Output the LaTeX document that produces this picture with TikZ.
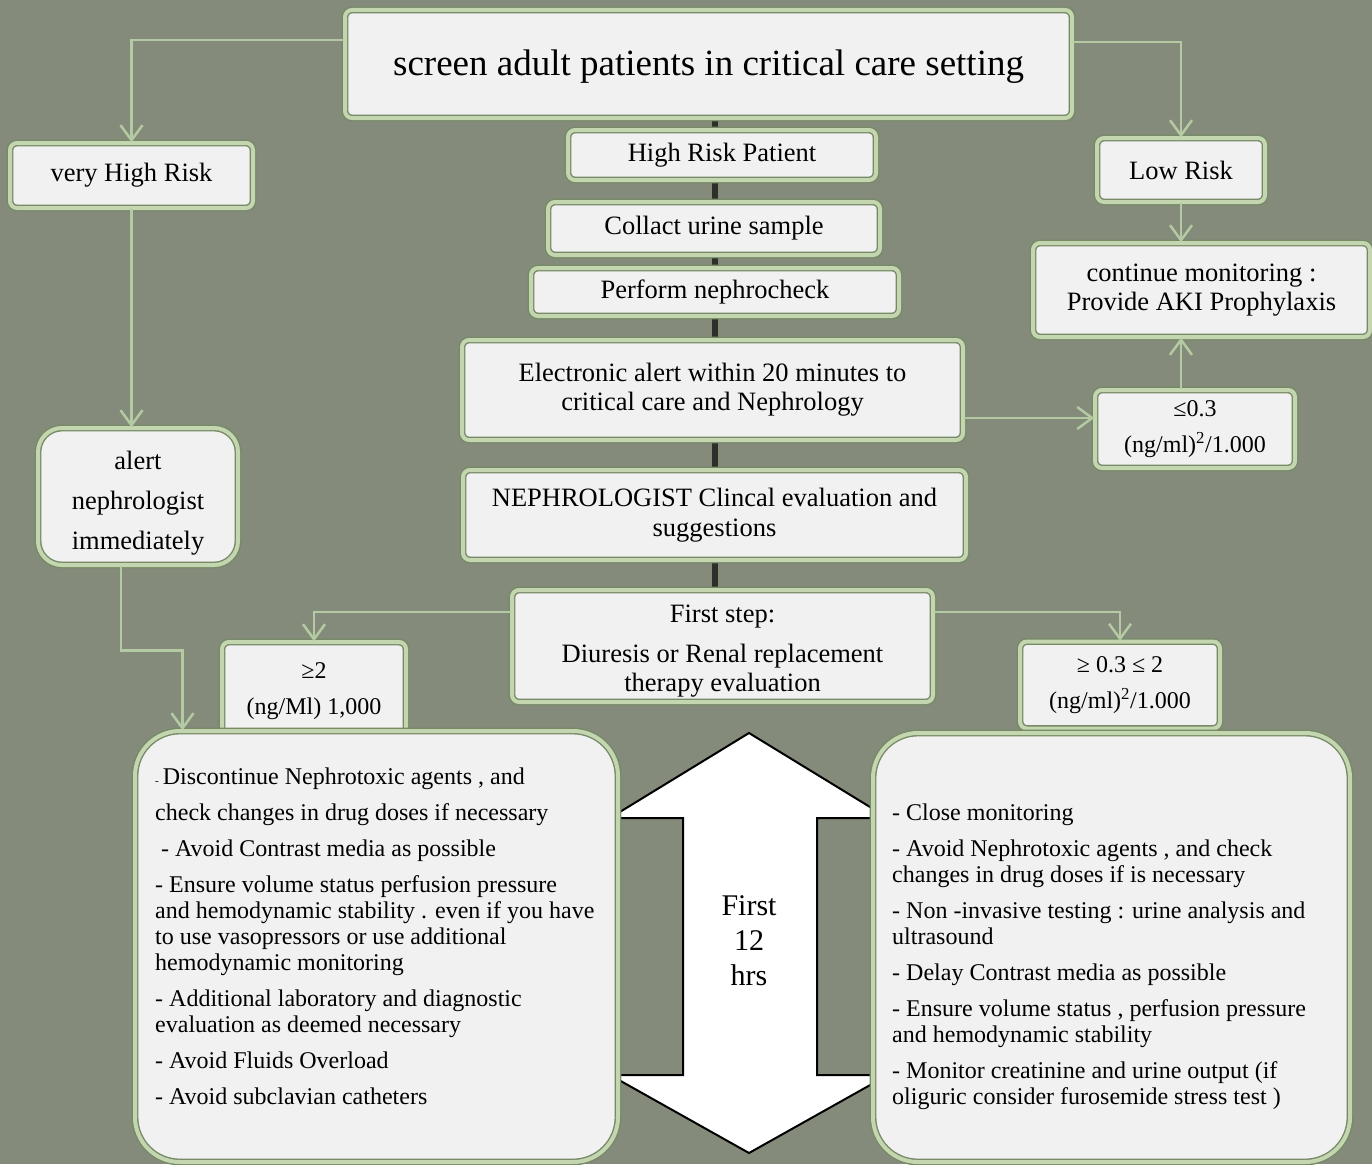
\documentclass[tikz,border=0pt]{standalone}
\usepackage{fontspec}
\setmainfont{Liberation Serif}
\usetikzlibrary{positioning}
\usetikzlibrary{arrows.meta}
\usetikzlibrary{backgrounds}
\definecolor{bggreen}{RGB}{132,139,122}
\definecolor{boxfill}{RGB}{241,241,241}
\definecolor{edgegreen}{RGB}{118,138,102}
\definecolor{bandgreen}{RGB}{196,214,176}
\definecolor{linkgreen}{RGB}{180,202,162}
\definecolor{spinegray}{RGB}{45,48,42}
\tikzset{block/.style={rectangle,draw=edgegreen,double=bandgreen,double distance=4pt,line width=1.4pt,fill=boxfill,rounded corners=7pt,align=center,inner sep=0pt,font=\fontsize{26.5}{29}\selectfont}}
\tikzset{roundblock/.style={block,rounded corners=24pt}}
\tikzset{bigblock/.style={block,rounded corners=45pt}}
\tikzset{numtext/.style={font=\fontsize{24}{36}\selectfont}}
\tikzset{listtext/.style={align=left,inner sep=0pt,font=\fontsize{24}{26}\selectfont}}
\tikzset{link/.style={linkgreen,line width=2.5pt,-{Straight Barb[length=15pt,width=22pt]}}}
\tikzset{spine/.style={spinegray,line width=6pt}}
\tikzset{bigarrow/.style={draw=black,fill=white,line width=2pt,line join=miter}}

\begin{document}
\begin{tikzpicture}[x=1pt,y=-1pt]
  \useasboundingbox (0,0) rectangle (1372,1164);
  \begin{scope}[on background layer]
    \fill[bggreen] (0,0) rectangle (1372,1164);
  \end{scope}

  % Screening
  \node[block,minimum width=727,minimum height=108,font=\fontsize{37}{42}\selectfont] (screen) at (708.5,64) {\rule{0pt}{31pt}screen adult patients in critical care setting};

  % Left branch
  \node[block,minimum width=243,minimum height=65] (veryhigh) at (131.5,175.5) {very High Risk};
  \node[roundblock,minimum width=200,minimum height=137,font=\fontsize{26.5}{40}\selectfont] (alertneph) at (138,496.5) {\rule{0pt}{32pt}alert\\nephrologist\\immediately};

  % Middle column
  \node[block,minimum width=308,minimum height=50] (highrisk) at (722,155) {High Risk Patient};
  \node[block,minimum width=332,minimum height=53] (urine) at (714,228.5) {Collact urine sample};
  \node[block,minimum width=368,minimum height=48] (nephrocheck) at (715,292) {Perform nephrocheck};
  \node[block,minimum width=501,minimum height=100] (ealert) at (712.5,390) {Electronic alert within 20 minutes to\\critical care and Nephrology};
  \node[block,minimum width=503,minimum height=90,font=\fontsize{26.5}{30}\selectfont] (clinical) at (714.5,515) {NEPHROLOGIST Clincal evaluation and\\suggestions};
  \node[block,minimum width=421,minimum height=112] (firststep) at (722.5,646) {\rule{0pt}{27pt}First step:\\[11pt]Diuresis or Renal replacement\\therapy evaluation};

  % Right branch
  \node[block,minimum width=168,minimum height=64] (lowrisk) at (1181,170) {Low Risk};
  \node[block,minimum width=337,minimum height=94] (monitor) at (1201.5,290) {continue monitoring :\\Provide AKI Prophylaxis};
  \node[block,numtext,minimum width=200,minimum height=78] (low03) at (1195,429) {≤0.3\\(ng/ml)\textsuperscript{2}/1.000};

  % Thresholds
  \node[block,numtext,minimum width=184,minimum height=98] (high2) at (314,691) {≥2\\(ng/Ml) 1,000};
  \node[block,numtext,minimum width=200,minimum height=87] (mid03) at (1120,685) {≥ 0.3 ≤ 2\\(ng/ml)\textsuperscript{2}/1.000};

  % Time arrow
  \draw[bigarrow] (749,733) -- (888,818) -- (817,818) -- (817,1075) -- (888,1075) -- (749,1153) -- (610,1075) -- (683,1075) -- (683,818) -- (610,818) -- cycle;
  \node[align=center,font=\fontsize{30}{35}\selectfont] (hrs) at (749,941) {First\\12\\hrs};

  % Actions
  \node[bigblock,minimum width=483,minimum height=431] (leftbox) at (376.5,946.5) {};
  \node[bigblock,minimum width=477,minimum height=429] (rightbox) at (1111.5,947.5) {};
  \node[listtext,anchor=north west] (lefttext) at (155,767.5) {{\fontsize{11}{11}\selectfont -}\,Discontinue Nephrotoxic agents , and\\[10pt]
    check changes in drug doses if necessary\\[10pt]
    \ - Avoid Contrast media as possible\\[10pt]
    - Ensure volume status perfusion pressure\\
    and hemodynamic stability . even if you have\\
    to use vasopressors or use additional\\
    hemodynamic monitoring\\[10pt]
    - Additional laboratory and diagnostic\\
    evaluation as deemed necessary\\[10pt]
    - Avoid Fluids Overload\\[10pt]
    - Avoid subclavian catheters};
  \node[listtext,anchor=north west] (righttext) at (892,803.5) {- Close monitoring\\[10pt]
    - Avoid Nephrotoxic agents , and check\\
    changes in drug doses if is necessary\\[10pt]
    - Non -invasive testing : urine analysis and\\
    ultrasound\\[10pt]
    - Delay Contrast media as possible\\[10pt]
    - Ensure volume status , perfusion pressure\\
    and hemodynamic stability\\[10pt]
    - Monitor creatinine and urine output (if\\
    oliguric consider furosemide stress test )};

  % Spine
  \begin{scope}[on background layer]
    \draw[spine] (screen.south -| nephrocheck.center) -- (firststep.south -| nephrocheck.center);
  \end{scope}

  % Links
  \coordinate (ealertout) at ([yshift=-28pt]ealert.east);
  \draw[link] ([yshift=24pt]screen.west) -| (veryhigh.north);
  \draw[link] ([yshift=22pt]screen.east) -| (lowrisk.north);
  \draw[link] (veryhigh.south) -- (veryhigh.south |- alertneph.north);
  \draw[link] ([xshift=-17pt]alertneph.south) -- ++(0,85) -| ([xshift=-194pt]leftbox.north);
  \draw[link] (lowrisk.south) -- (lowrisk.south |- monitor.north);
  \draw[link] (ealertout) -- (ealertout -| low03.west);
  \draw[link] (low03.north -| lowrisk.south) -- (monitor.south -| lowrisk.south);
  \draw[link] ([yshift=34pt]firststep.west) -| (high2.north);
  \draw[link] ([yshift=34pt]firststep.east) -| (mid03.north);
\end{tikzpicture}
\end{document}
